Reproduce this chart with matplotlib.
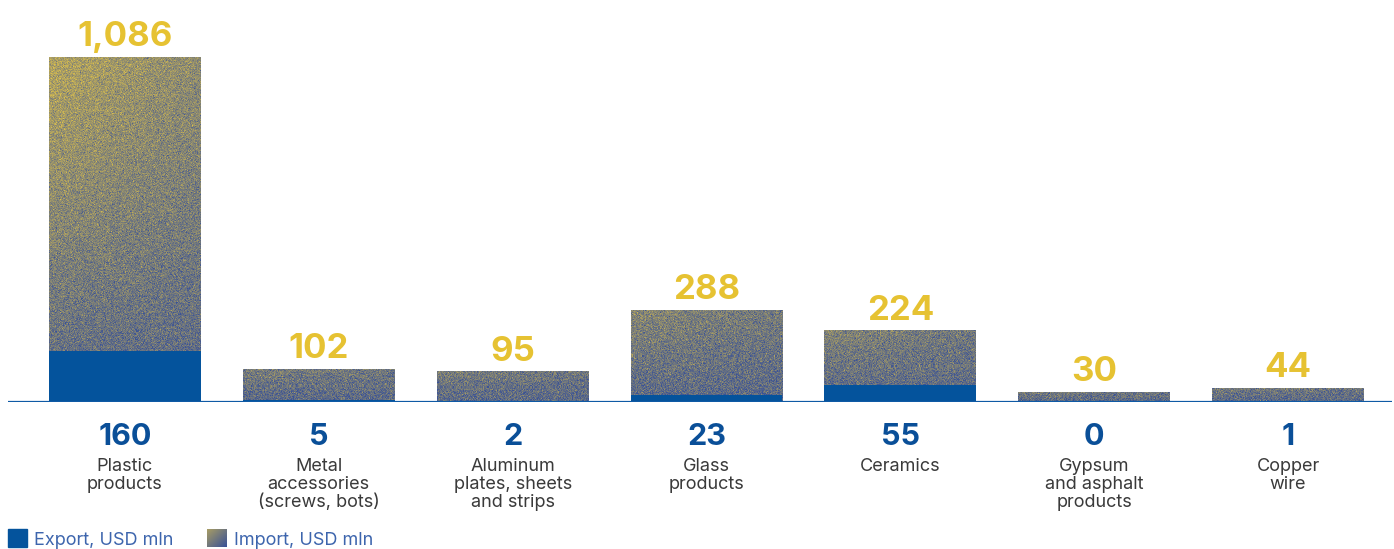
import numpy as np
import matplotlib
matplotlib.use("Agg")
import matplotlib.pyplot as plt
from matplotlib.patches import Rectangle

# ---- data ----
categories = ["Plastic\nproducts", "Metal\naccessories\n(screws, bots)",
              "Aluminum\nplates, sheets\nand strips", "Glass\nproducts",
              "Ceramics", "Gypsum\nand asphalt\nproducts", "Copper\nwire"]
imports = [1086, 102, 95, 288, 224, 30, 44]
exports = [160, 5, 2, 23, 55, 0, 1]
import_labels = ["1,086", "102", "95", "288", "224", "30", "44"]
export_labels = ["160", "5", "2", "23", "55", "0", "1"]
legend_labels = ["Export, USD mln", "Import, USD mln"]

plt.rcParams["font.family"] = ["Inter", "DejaVu Sans"]

W, H = 1394, 549
fig = plt.figure(figsize=(W / 100, H / 100), dpi=100)
base_px = 402
ax = fig.add_axes([8 / W, (H - base_px) / H, 1384 / W, base_px / H])
ymax = max(imports) * base_px / 345.0
ax.set_xlim(-0.603, 6.536)
ax.set_ylim(0, ymax)
ax.axis("off")

width = 152 / 194
yellow = np.array([226, 196, 74]) / 255
blue = np.array([58, 82, 150]) / 255
exp_col = "#04539c"

rng = np.random.default_rng(7)


def texture(h_px, w_px, amp):
    yy, xx = np.mgrid[0:h_px, 0:w_px]
    v = yy / max(h_px - 1, 1)
    u = xx / max(w_px - 1, 1)
    g = amp * (1 - v) * (1 - 0.4 * u) + 0.2
    m = np.clip(g + rng.normal(0, 0.13, size=g.shape), 0, 1)[..., None]
    return blue * (1 - m) + yellow * m


px_per_unit = base_px / ymax
for i, val in enumerate(imports):
    h_px = max(int(round(val * px_per_unit)), 2)
    amp = 0.16 + 0.36 * val / max(imports)
    tex = texture(h_px, 152, amp)
    ax.imshow(tex, extent=(i - width / 2, i + width / 2, 0, val),
              aspect="auto", interpolation="nearest", zorder=1)
    ax.annotate(import_labels[i], (i, val), xytext=(0, 8), textcoords="offset points",
                ha="center", va="baseline", fontsize=25, fontweight="bold",
                color="#e6c232")
    ax.annotate(export_labels[i], (i, 0), xytext=(0, -31), textcoords="offset points",
                ha="center", va="baseline", fontsize=22, fontweight="bold",
                color="#0a4f98", annotation_clip=False)
    ax.annotate(categories[i], (i, 0), xytext=(0, -40), textcoords="offset points",
                ha="center", va="top", fontsize=13, color="#3a3a3a",
                linespacing=1.08, annotation_clip=False)

ax.bar(range(len(exports)), exports, width, color=exp_col, zorder=3)
ax.set_xlim(-0.603, 6.536)
ax.set_ylim(0, ymax)
ax.axhline(0, color="#0f5aa5", lw=1.6, zorder=4)

# ---- legend ----
fig.patches.append(Rectangle((8 / W, (H - 547) / H), 19 / W, 18 / H,
                             transform=fig.transFigure, color=exp_col))
fig.text(34 / W, 4 / H, legend_labels[0], fontsize=13, color="#3d65ad", va="baseline")
lax = fig.add_axes([207 / W, (H - 547) / H, 20 / W, 18 / H])
yy, xx = np.mgrid[0:18, 0:20]
t = np.clip(0.55 * (1 - yy / 17) * 0.6 + 0.55 * (1 - xx / 19) * 0.6, 0, 1)[..., None]
lax.imshow(blue * (1 - t) + yellow * t, aspect="auto", interpolation="bilinear")
lax.axis("off")
fig.text(234 / W, 4 / H, legend_labels[1], fontsize=13, color="#3d65ad", va="baseline")

fig.savefig("out.png", dpi=100)
